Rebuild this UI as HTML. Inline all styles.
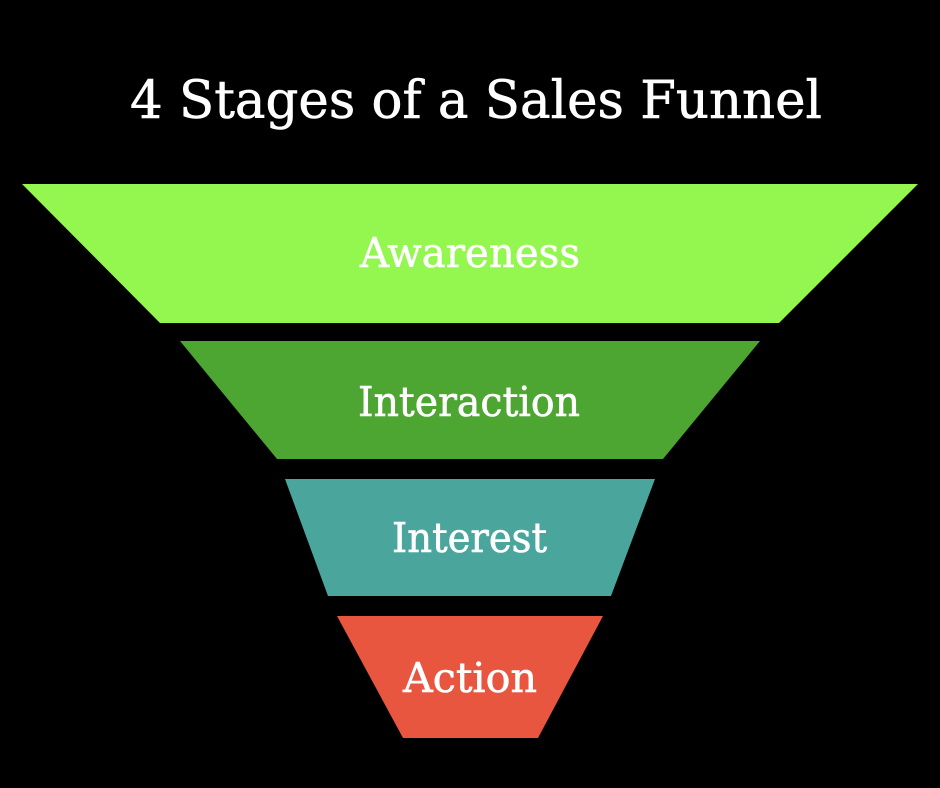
<!DOCTYPE html>
<html>
<head>
<meta charset="utf-8">
<style>
  html, body { margin: 0; padding: 0; background: #000; }
  svg { display: block; }
  text { font-family: "DejaVu Serif", "Liberation Serif", serif; fill: #ffffff; stroke: #ffffff; stroke-width: 0.6; }
</style>
</head>
<body>
<svg width="940" height="788" viewBox="0 0 940 788" xmlns="http://www.w3.org/2000/svg">
  <rect width="940" height="788" fill="#000"/>
  <text x="130" y="118" font-size="52" textLength="692" lengthAdjust="spacingAndGlyphs">4 Stages of a Sales Funnel</text>

  <polygon points="22,184 918,184 779,323 160,323" fill="#94f74f"/>
  <polygon points="180,341 760,341 663,459 277,459" fill="#4da632"/>
  <polygon points="285,479 655,479 611,596 328,596" fill="#4aa69c"/>
  <polygon points="337,616 603,616 538,738 403,738" fill="#e85640"/>

  <text x="360" y="267" font-size="41" textLength="220" lengthAdjust="spacingAndGlyphs">Awareness</text>
  <text x="358" y="416" font-size="41" textLength="222" lengthAdjust="spacingAndGlyphs">Interaction</text>
  <text x="392" y="552" font-size="41" textLength="155" lengthAdjust="spacingAndGlyphs">Interest</text>
  <text x="403" y="692" font-size="41" textLength="134" lengthAdjust="spacingAndGlyphs">Action</text>
</svg>
</body>
</html>
